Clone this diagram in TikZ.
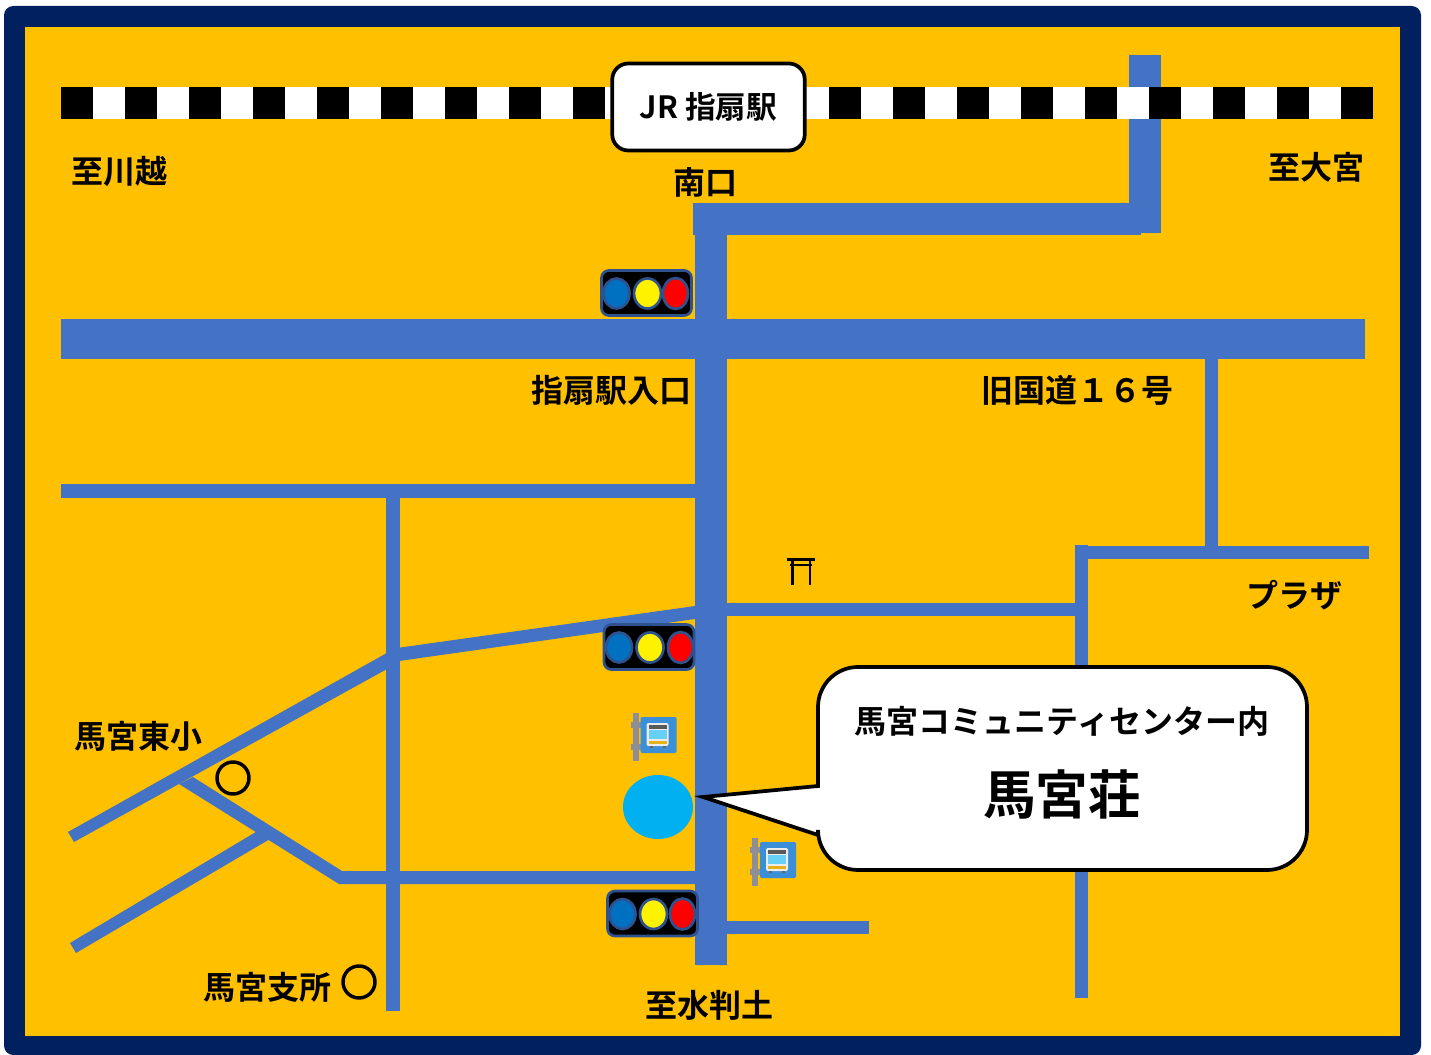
\documentclass[tikz,border=0pt]{standalone}
\usepackage{fontspec}
\setmainfont{Noto Sans CJK JP Bold}
\definecolor{framecol}{HTML}{002060}
\definecolor{mapbg}{HTML}{FFC000}
\definecolor{roadcol}{HTML}{4472C4}
\definecolor{lightedge}{HTML}{2F528F}
\definecolor{pinblue}{HTML}{00B0F0}
\definecolor{sigblue}{HTML}{0070C0}
\definecolor{stopblue}{HTML}{3A8FD8}
\definecolor{polegray}{HTML}{8E8E96}
\tikzset{
 x=0.75pt,y=-0.75pt,
 road/.style={fill=roadcol,draw=none},
 lbl/.style={inner sep=0pt,font=\fontsize{24pt}{26pt}\selectfont,text=black},
 ring/.style={draw=black,line width=2.6pt,fill=none},
 lamp/.style={draw=lightedge,line width=2pt},
}
\newcommand{\signal}[3]{%
 \begin{scope}[shift={(#1,#2)}]
 \draw[fill=black,draw=lightedge,line width=2pt,rounded corners=5.5pt] (0,0) rectangle (90,45);
 \fill[lamp,fill=sigblue] (15,23) ellipse [x radius=13,y radius=15];
 \fill[lamp,fill=yellow] (46,23) ellipse [x radius=13.5,y radius=15];
 \fill[lamp,fill=red] (#3,23) ellipse [x radius=12.5,y radius=15.5];
 \end{scope}}
\newcommand{\busstop}[2]{%
 \begin{scope}[shift={(#1,#2)}]
 \fill[polegray] (2,0) rectangle (8,48);
 \fill[polegray] (0,9) rectangle (10,15);
 \fill[polegray] (0,31) rectangle (10,37);
 \fill[stopblue,rounded corners=1pt] (10,4) rectangle (46,40);
 \fill[white!85!gray,rounded corners=1.5pt] (16,10) rectangle (38,33);
 \fill[pinblue!60!white] (18,17) rectangle (36,26);
 \fill[black!65] (18,12) rectangle (36,16);
 \fill[mapbg!80!gray] (18,28) rectangle (36,31);
 \fill[black!60] (19,33) rectangle (22,35);
 \fill[black!60] (32,33) rectangle (35,35);
 \end{scope}}
\begin{document}
\begin{tikzpicture}
\useasboundingbox (0,0) rectangle (1431,1055);
% frame
\fill[framecol,rounded corners=7pt] (4,6) rectangle (1421,1055);
\fill[mapbg] (25,27) rectangle (1400,1036);
% roads
\fill[road] (1129,55) rectangle (1161,233);
\fill[road] (693,203) rectangle (1141,235);
\fill[road] (695,203) rectangle (727,965);
\fill[road] (61,319) rectangle (1365,359);
\fill[road] (61,484) rectangle (695,498);
\fill[road] (386,491) rectangle (400,1011);
\fill[road] (397,648) -- (695,606) -- (695,619) -- (399,661) -- cycle;
\fill[road] (68,832) -- (393,649.5) -- (393,665.7) -- (74,842) -- cycle;
\fill[road] (193,777) -- (342,871) -- (695,871) -- (695,884) -- (339,884) -- (179,784) -- cycle;
\fill[road] (70,943) -- (260,829.5) -- (270,839) -- (76,953) -- cycle;
\fill[road] (726,603) rectangle (1081,616);
\fill[road] (1075,545) rectangle (1088,998);
\fill[road] (1075,546) rectangle (1369,559);
\fill[road] (1205,359) rectangle (1218,552);
\fill[road] (727,921) rectangle (869,934);
% railway
\fill[black] (61,87) rectangle (1373,119);
\foreach \i in {0,...,19} \fill[white] ({93+64*\i},87) rectangle ({125+64*\i},119);
% station
\node[draw=black,fill=white,line width=2.8pt,rounded corners=12pt,minimum width=192.5*0.75pt,minimum height=87*0.75pt,inner sep=0pt,font=\fontsize{23pt}{25pt}\selectfont] (station) at (708.5,107) {JR 指扇駅};
% signals
\signal{601.5}{270.5}{74}
\signal{604}{624.5}{76.5}
\signal{607.5}{891}{75}
% bus stops
\busstop{630.5}{713}
\busstop{750}{838}
% pin
\fill[pinblue] (658,807) ellipse [x radius=35,y radius=32];
% torii
\draw[black,line width=1.6pt] (787,559.5) -- (815,559.5) (790,565) -- (812,565) (792.5,559.5) -- (792.5,585) (810,559.5) -- (810,585);
% rings
\draw[ring] (233,778) circle (16);
\draw[ring] (359,982) circle (16);
% callout
\draw[fill=white,draw=black,line width=2.8pt,line join=miter] (858,667) -- (1267,667) arc[start angle=-90,end angle=0,radius=40] -- (1307,830) arc[start angle=0,end angle=90,radius=40] -- (858,870) arc[start angle=90,end angle=180,radius=40] -- (818,835) -- (703,797) -- (818,786) -- (818,707) arc[start angle=180,end angle=270,radius=40] -- cycle;
% labels
\node[lbl] (kawagoe) at (119,171) {至川越};
\node[lbl] (omiya) at (1316,167.5) {至大宮};
\node[lbl] (minami) at (705.5,182) {南口};
\node[lbl] (iriguchi) at (611,390.5) {指扇駅入口};
\node[lbl] (kokudo) at (1077,390.5) {旧国道１６号};
\node[lbl] (plaza) at (1294,595) {プラザ};
\node[lbl] (higashi) at (138,736.5) {馬宮東小};
\node[lbl] (shisho) at (267,987.5) {馬宮支所};
\node[lbl] (mizu) at (709,1005.5) {至水判土};
\node[lbl] (center) at (1062,721.5) {馬宮コミュニティセンター内};
\node[lbl,font=\fontsize{39.5pt}{42pt}\selectfont] (maso) at (1062,794) {馬宮荘};
\end{tikzpicture}
\end{document}
